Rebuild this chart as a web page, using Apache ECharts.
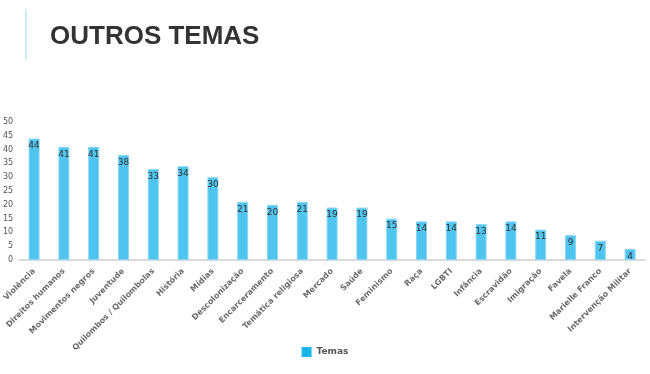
<!DOCTYPE html>
<html><head><meta charset="utf-8">
<script src="https://cdn.jsdelivr.net/npm/echarts@6/dist/echarts.min.js"></script>
<style>html,body{margin:0;padding:0;background:#fff}#c{width:650px;height:374px}</style>
</head><body><div id="c"></div>
<script>
const categories = ["Violência","Direitos humanos","Movimentos negros","Juventude","Quilombos / Quilombolas","História","Mídias","Descolonização","Encarceramento","Temática religiosa","Mercado","Saúde","Feminismo","Raça","LGBTI","Infância","Escravidão","Imigração","Favela","Marielle Franco","Intervenção Militar"];
const temas = [44,41,41,38,33,34,30,21,20,21,19,19,15,14,14,13,14,11,9,7,4];
const yTicks = {min:0, max:50, interval:5};
const chart = echarts.init(document.getElementById('c'));
chart.setOption({
  animation:false,
  title:{text:'OUTROS TEMAS', left:45, top:19, textStyle:{fontFamily:'Liberation Sans', fontWeight:'bold', fontSize:26, color:'#333'}},
  graphic:[{type:'line', shape:{x1:26,y1:9,x2:26,y2:60}, style:{stroke:'#9fd8f2', lineWidth:1}}],
  legend:{bottom:12, left:'center', itemWidth:10, itemHeight:10, icon:'rect',
    data:[{name:'Temas', itemStyle:{color:'#1fb5e8', borderWidth:0}}],
    textStyle:{fontFamily:'DejaVu Sans', fontSize:9, color:'#555', fontWeight:'bold'}},
  grid:{left:19, right:5, top:122, bottom:114, containLabel:false},
  xAxis:{type:'category', data:categories, axisTick:{show:false}, axisLine:{lineStyle:{color:'#d9d9d9', width:2}},
    axisLabel:{rotate:45, interval:0, fontFamily:'DejaVu Sans', fontWeight:'bold', fontSize:8, color:'#6a6a6a', margin:10}},
  yAxis:{type:'value', min:yTicks.min, max:yTicks.max, interval:yTicks.interval, splitLine:{show:false}, axisLine:{show:false}, axisTick:{show:false},
    axisLabel:{fontFamily:'DejaVu Sans', fontSize:8, color:'#555', margin:6}},
  series:[{name:'Temas', type:'bar', data:temas, barWidth:11,
    itemStyle:{color:'#4fc4ee', borderColor:'#8ad8f5', borderWidth:1},
    label:{show:true, position:'insideTop', distance:3, fontFamily:'DejaVu Sans', fontSize:9, color:'#333'}}]
});
</script></body></html>
